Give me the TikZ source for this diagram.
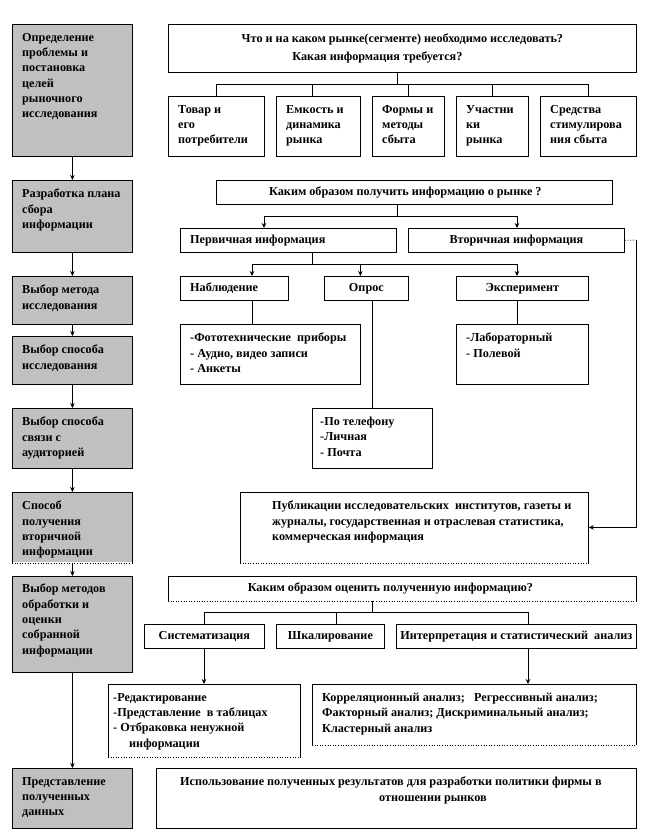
\documentclass[tikz,border=0pt]{standalone}
\usepackage{fontspec}
\setmainfont{Liberation Serif}
\usetikzlibrary{arrows.meta}
\definecolor{boxgray}{RGB}{192,192,192}
\newcommand\myfont{\fontsize{12.2}{15.3}\selectfont\bfseries}
\newcommand\dotbottom[1]{%
  \draw[line width=0.8pt] (#1.south west) -- (#1.north west) -- (#1.north east) -- (#1.south east);
  \draw[dotted, line width=0.6pt] (#1.south west) -- (#1.south east);}
\begin{document}
\begin{tikzpicture}[x=1pt,y=-1pt,
  box/.style={draw, line width=0.8pt, inner sep=0pt, anchor=north west, font=\myfont, align=center},
  obox/.style={box, draw=none},
  gbox/.style={box, fill=boxgray},
  tx/.style={anchor=north west, inner sep=0pt, align=left, font=\myfont},
  ln/.style={line width=0.8pt},
  arr/.style={ln, -{Stealth[length=5pt,width=4.5pt]}}]
\useasboundingbox (0,0) rectangle (651,840);

% left column
\node[gbox, minimum width=120, minimum height=132] (g1) at (12,24) {};
\node[gbox, minimum width=120, minimum height=72] (g2) at (12,180) {};
\node[gbox, minimum width=120, minimum height=48] (g3) at (12,276) {};
\node[gbox, minimum width=120, minimum height=48] (g4) at (12,336) {};
\node[gbox, minimum width=120, minimum height=60] (g5) at (12,408) {};
\node[gbox, draw=none, minimum width=120, minimum height=70] (g6) at (12,492) {};
\dotbottom{g6}
\node[gbox, minimum width=120, minimum height=96] (g7) at (12,576) {};
\node[gbox, minimum width=120, minimum height=60] (g8) at (12,768) {};

\node[tx] (g1t) at ([shift={(10,9)}]g1.north west) {Определение\\проблемы и\\постановка\\целей\\рыночного\\исследования};
\node[tx] (g2t) at ([shift={(10,9)}]g2.north west) {Разработка плана\\сбора\\информации};
\node[tx] (g3t) at ([shift={(10,9)}]g3.north west) {Выбор метода\\исследования};
\node[tx] (g4t) at ([shift={(10,9)}]g4.north west) {Выбор способа\\исследования};
\node[tx] (g5t) at ([shift={(10,9)}]g5.north west) {Выбор способа\\связи с\\аудиторией};
\node[tx] (g6t) at ([shift={(10,9)}]g6.north west) {Способ\\получения\\вторичной\\информации};
\node[tx] (g7t) at ([shift={(10,8)}]g7.north west) {Выбор методов\\обработки и\\оценки\\собранной\\информации};
\node[tx] (g8t) at ([shift={(10,9)}]g8.north west) {Представление\\полученных\\данных};

\draw[arr] (g1.south) -- (g2.north);
\draw[arr] (g2.south) -- (g3.north);
\draw[arr] (g3.south) -- (g4.north);
\draw[arr] (g4.south) -- (g5.north);
\draw[arr] (g5.south) -- (g6.north);
\draw[arr] (g6.south) -- (g7.north);
\draw[arr] (g7.south) -- (g8.north);

% group 1
\node[box, minimum width=468, minimum height=48, font={\fontsize{12.2}{18}\selectfont\bfseries}] (q1) at (168,24)
  {Что и на каком рынке(сегменте) необходимо исследовать?\\Какая информация требуется?\hspace*{50pt}};
\node[box, minimum width=96, minimum height=60] (t1) at (168,96) {};
\node[box, minimum width=84, minimum height=60] (t2) at (276,96) {};
\node[box, minimum width=72, minimum height=60] (t3) at (372,96) {};
\node[box, minimum width=72, minimum height=60] (t4) at (456,96) {};
\node[box, minimum width=96, minimum height=60] (t5) at (540,96) {};
\node[tx] (t1t) at ([shift={(10,9)}]t1.north west) {Товар и\\его\\потребители};
\node[tx] (t2t) at ([shift={(10,9)}]t2.north west) {Емкость и\\динамика\\рынка};
\node[tx] (t3t) at ([shift={(10,9)}]t3.north west) {Формы и\\методы\\сбыта};
\node[tx] (t4t) at ([shift={(10,9)}]t4.north west) {Участни\\ки\\рынка};
\node[tx] (t5t) at ([shift={(10,9)}]t5.north west) {Средства\\стимулирова\\ния сбыта};
\coordinate (j1) at (397,84);
\draw[ln] (q1.south -| j1) -- (j1);
\draw[ln] (t1.north) -- (t1.north |- j1) -- (t5.north |- j1) -- (t5.north);
\draw[ln] ([xshift=-6]t2.north) -- ([xshift=-6]t2.north |- j1);
\draw[ln] (t3.north) -- (t3.north |- j1);
\draw[ln] (t4.north) -- (t4.north |- j1);

% group 2
\node[box, minimum width=396, minimum height=24] (q2) at (216,180) {Каким образом получить информацию о рынке ?\hspace*{18pt}};
\node[box, minimum width=216, minimum height=24] (p1) at (180,228) {};
\node[tx, anchor=west] (p1t) at ([xshift=10]p1.west) {Первичная информация};
\node[box, minimum width=216, minimum height=24] (p2) at (408,228) {Вторичная информация};
\coordinate (j2) at (397,216);
\coordinate (j2l) at (264,216);
\coordinate (j2r) at (517,216);
\draw[ln] (q2.south -| j2) -- (j2);
\draw[ln] (j2l) -- (j2r);
\draw[arr] (j2l) -- (j2l |- p1.north);
\draw[arr] (j2r) -- (j2r |- p2.north);

\node[box, minimum width=108, minimum height=24] (m1) at (180,276) {};
\node[tx, anchor=west] (m1t) at ([xshift=10]m1.west) {Наблюдение};
\node[box, minimum width=84, minimum height=24] (m2) at (324,276) {Опрос};
\node[box, minimum width=132, minimum height=24] (m3) at (456,276) {Эксперимент};
\coordinate (j3) at (312,264);
\coordinate (j3l) at (252,264);
\coordinate (j3r) at (517,264);
\draw[ln] (p1.south -| j3) -- (j3);
\draw[ln] (j3l) -- (j3r);
\draw[arr] (j3l) -- (j3l |- m1.north);
\draw[arr] ([xshift=-6]m2.north |- j3) -- ([xshift=-6]m2.north);
\draw[arr] (j3r) -- (j3r |- m3.north);

\node[box, minimum width=180, minimum height=60] (r1) at (180,324) {};
\node[tx] (r1t) at ([shift={(10,9)}]r1.north west) {-Фототехнические\ \ приборы\\- Аудио, видео записи\\- Анкеты};
\node[box, minimum width=120, minimum height=60] (r2) at (312,408) {};
\node[tx] (r2t) at ([shift={(8,9)}]r2.north west) {-По телефону\\-Личная\\- Почта};
\node[box, minimum width=132, minimum height=60] (r3) at (456,324) {};
\node[tx] (r3t) at ([shift={(10,9)}]r3.north west) {-Лабораторный\\- Полевой};
\draw[ln] (m1.south -| j3l) -- (r1.north -| j3l);
\draw[ln] (m2.south -| r2.north) -- (r2.north);
\draw[ln] (m3.south -| j3r) -- (r3.north -| j3r);

\node[obox, minimum width=348, minimum height=70] (pub) at (240,492) {};
\dotbottom{pub}
\node[tx] (pubt) at ([shift={(32,9)}]pub.north west) {Публикации исследовательских\ \ институтов, газеты и\\журналы, государственная и отраслевая статистика,\\коммерческая информация};
\coordinate (k1) at (636,240);
\draw[ln, dotted] (p2.east) -- (k1);
\draw[arr] (k1) |- (pub.east);

% group 3
\node[obox, minimum width=468, minimum height=24] (q3) at (168,576) {Каким образом оценить полученную информацию?\hspace*{24pt}};
\dotbottom{q3}
\node[box, minimum width=120, minimum height=24] (s1) at (144,624) {Систематизация};
\node[box, minimum width=108, minimum height=24] (s2) at (276,624) {Шкалирование};
\node[box, minimum width=240, minimum height=24] (s3) at (396,624) {Интерпретация и статистический\ \ анализ};
\coordinate (j4) at (372,612);
\coordinate (j4l) at (204,612);
\coordinate (j4r) at (528,612);
\draw[ln] (q3.south -| j4) -- (j4);
\draw[ln] (j4l) -- (j4r);
\draw[ln] (j4l) -- (j4l |- s1.north);
\draw[ln] ([xshift=6]s2.north |- j4) -- ([xshift=6]s2.north);
\draw[ln] (j4r) -- (j4r |- s3.north);

\node[obox, minimum width=192, minimum height=72] (a1) at (108,684) {};
\dotbottom{a1}
\node[tx] (a1t) at ([shift={(5,9)}]a1.north west) {-Редактирование\\-Представление\ \ в таблицах\\- Отбраковка ненужной\\\hspace*{16pt}информации};
\node[obox, minimum width=324, minimum height=60] (a2) at (312,684) {};
\dotbottom{a2}
\node[tx] (a2t) at ([shift={(10,9)}]a2.north west) {Корреляционный анализ;\ \ \ Регрессивный анализ;\\Факторный анализ; Дискриминальный анализ;\\Кластерный анализ};
\draw[arr] (j4l |- s1.south) -- (j4l |- a1.north);
\draw[arr] (j4r |- s3.south) -- (j4r |- a2.north);

\node[box, minimum width=480, minimum height=60] (fin) at (156,768) {};
\node[tx] (fint) at ([shift={(24,9)}]fin.north west) {Использование полученных результатов для разработки политики фирмы в\\\hspace*{199pt}отношении рынков};
\end{tikzpicture}
\end{document}
